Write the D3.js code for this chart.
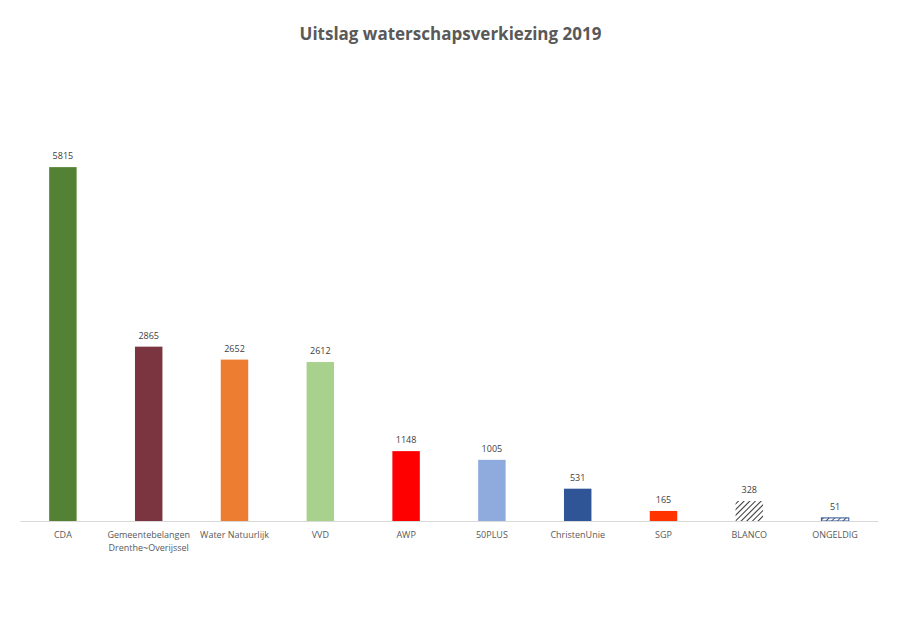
<!DOCTYPE html>
<html><head><meta charset="utf-8">
<script src="https://cdn.jsdelivr.net/npm/d3@7"></script>
<style>body{margin:0;background:#fff}svg{font-family:"Open Sans",sans-serif}</style>
</head><body><div id="chart"></div>
<script>
const parties = ['CDA', 'Gemeentebelangen\nDrenthe~Overijssel', 'Water Natuurlijk', 'VVD', 'AWP', '50PLUS', 'ChristenUnie', 'SGP', 'BLANCO', 'ONGELDIG'];
const votes = [5815, 2865, 2652, 2612, 1148, 1005, 531, 165, 328, 51];
const colors = ['#548235', '#7B3540', '#ED7D31', '#A9D18E', '#FF0000', '#8FAADC', '#2F5597', '#FF3300', 'url(#hatch)', 'url(#hatch2)'];

const W = 901, H = 628;
const svg = d3.select('#chart').append('svg').attr('width', W).attr('height', H);

const defs = svg.append('defs');
[['hatch', '#000'], ['hatch2', '#1F3864']].forEach(([id, c]) => {
    const p = defs.append('pattern').attr('id', id).attr('patternUnits', 'userSpaceOnUse')
        .attr('width', 4).attr('height', 4).attr('patternTransform', 'rotate(45)');
    p.append('rect').attr('width', 4).attr('height', 4).attr('fill', '#fff');
    p.append('line').attr('x1', 0).attr('y1', 0).attr('x2', 0).attr('y2', 4)
        .attr('stroke', c).attr('stroke-width', 1.6);
});

const x = d3.scaleBand().domain(parties).range([20, 878]).paddingInner(0.68).paddingOuter(0.34);
const y = d3.scaleLinear().domain([0, 7000]).range([521, 95]);

svg.append('text').attr('x', W / 2).attr('y', 40).attr('text-anchor', 'middle')
    .attr('font-size', 17).attr('font-weight', 'bold').attr('fill', '#595959')
    .text('Uitslag waterschapsverkiezing 2019');

svg.selectAll('rect.bar').data(parties).join('rect').attr('class', 'bar')
    .attr('x', d => x(d)).attr('width', x.bandwidth())
    .attr('y', (d, i) => y(votes[i])).attr('height', (d, i) => y(0) - y(votes[i]))
    .attr('fill', (d, i) => colors[i])
    .attr('stroke', (d, i) => i === 9 ? '#2F5597' : 'none').attr('stroke-width', 1);

svg.selectAll('text.val').data(parties).join('text').attr('class', 'val')
    .attr('x', d => x(d) + x.bandwidth() / 2).attr('y', (d, i) => y(votes[i]) - 8)
    .attr('text-anchor', 'middle').attr('font-size', 9).attr('fill', '#404040')
    .text((d, i) => votes[i]);

const ax = svg.append('g').attr('transform', `translate(0,${y(0)})`)
    .call(d3.axisBottom(x).tickSize(0).tickFormat(''));
ax.select('.domain').attr('stroke', '#d9d9d9');

const lbl = svg.selectAll('text.cat').data(parties).join('text').attr('class', 'cat')
    .attr('x', d => x(d) + x.bandwidth() / 2).attr('y', 538)
    .attr('text-anchor', 'middle').attr('font-size', 9).attr('fill', '#595959');
lbl.selectAll('tspan').data(d => d.split('\n')).join('tspan')
    .attr('x', function () { return this.parentNode.getAttribute('x'); })
    .attr('dy', (d, i) => i ? 13 : 0).text(d => d);
</script></body></html>
